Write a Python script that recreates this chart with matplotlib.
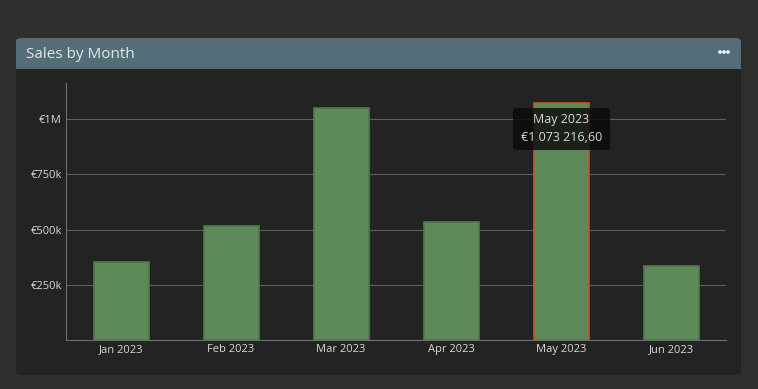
import matplotlib
matplotlib.use("Agg")
import matplotlib.pyplot as plt
from matplotlib.patches import FancyBboxPatch, Rectangle, Ellipse

months = ["Jan 2023", "Feb 2023", "Mar 2023", "Apr 2023", "May 2023", "Jun 2023"]
sales = [354000, 514000, 1050000, 536000, 1073216.60, 336000]
y_ticks = [250000, 500000, 750000, 1000000]
y_tick_labels = ["€250k", "€500k", "€750k", "€1M"]
highlight = "May 2023"

W, H = 758, 389
plt.rcParams['font.family'] = ['Open Sans', 'DejaVu Sans']

fig = plt.figure(figsize=(W / 100, H / 100), dpi=100)
fig.patch.set_facecolor("#2f2f2f")


def px(x, y):
    # pixel coords (from top-left) to figure fraction
    return x / W, 1 - y / H


# panel body and header
x0, y0 = px(16, 375)
panel = FancyBboxPatch((x0, y0), 725 / W, 337 / H, boxstyle="round,pad=0,rounding_size=0.008",
                       transform=fig.transFigure, facecolor="#232323", edgecolor="none", zorder=-3)
fig.patches.append(panel)
hx, hy = px(16, 69)
header = FancyBboxPatch((hx, hy), 725 / W, 31 / H, boxstyle="round,pad=0,rounding_size=0.008",
                        transform=fig.transFigure, facecolor="#546e79", edgecolor="none", zorder=-2)
fig.patches.append(header)
# square off the lower corners of the header
fig.patches.append(Rectangle(px(16, 69), 725 / W, 8 / H, transform=fig.transFigure,
                             facecolor="#546e79", edgecolor="none", zorder=-2))
fig.text(*px(26, 54), "Sales by Month", color="#e6e6e6", fontsize=11, va="center", ha="left")
for dx in (-4, 0, 4):
    fig.patches.append(Ellipse(px(724 + dx, 52), 3.6 / W, 3.6 / H, transform=fig.transFigure,
                               facecolor="white", edgecolor="none", zorder=-1))

ax = fig.add_axes([66 / W, (H - 340) / H, 660 / W, 257 / H])
ax.set_zorder(1)
ax.set_facecolor("none")
x = range(len(months))
colors_edge = ["#c2562a" if m == highlight else "#4f7a4b" for m in months]
ax.bar(x, sales, width=0.5, color="#5d8a58", edgecolor=colors_edge, linewidth=1.2, zorder=2)

ax.set_xlim(-0.5, len(months) - 0.5)
ax.set_ylim(0, 1163000)
ax.set_xticks(list(x))
ax.set_xticklabels(months)
ax.set_yticks(y_ticks)
ax.set_yticklabels(y_tick_labels)
ax.tick_params(colors="#d8d8d8", labelsize=8, length=0, pad=3)
ax.grid(axis="y", color="#5e5e5e", linewidth=0.8, zorder=1)
for s in ("top", "right"):
    ax.spines[s].set_visible(False)
for s in ("left", "bottom"):
    ax.spines[s].set_color("#6e6e6e")
    ax.spines[s].set_linewidth(0.8)

# tooltip over the highlighted bar
i = months.index(highlight)
tx, ty = px(513, 150)
tip = FancyBboxPatch((tx, ty), 97 / W, 42 / H, boxstyle="round,pad=0,rounding_size=0.006",
                     transform=fig.transFigure, facecolor="#0a0a0a", alpha=0.82,
                     edgecolor="none", zorder=5)
fig.patches.append(tip)
val = f"{sales[i]:,.2f}".replace(",", " ").replace(".", ",")
fig.text(*px(561.5, 119), highlight, color="#d8d8d8", fontsize=9, ha="center", va="center", zorder=6)
fig.text(*px(561.5, 137), "€" + val, color="#d8d8d8", fontsize=9, ha="center", va="center", zorder=6)

fig.savefig("out.png", dpi=100, facecolor=fig.get_facecolor())
